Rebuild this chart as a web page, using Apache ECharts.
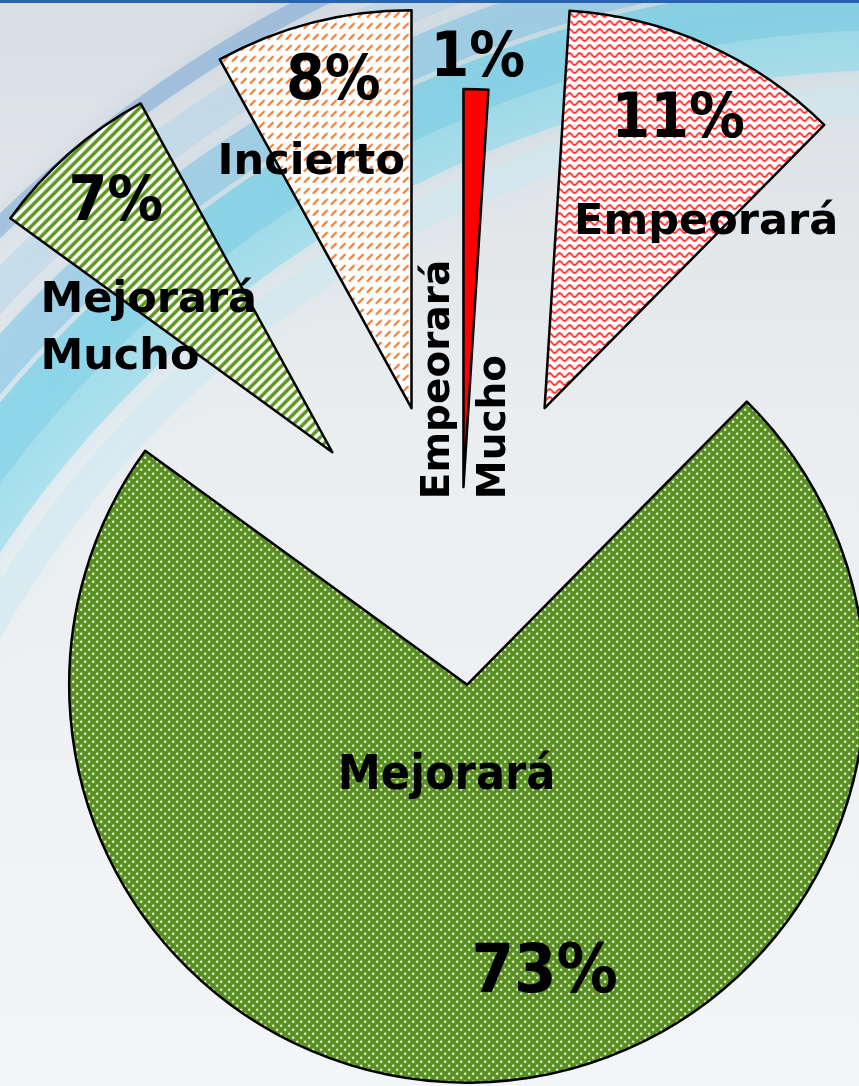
<!DOCTYPE html>
<html>
<head>
<meta charset="utf-8">
<script src="https://cdn.jsdelivr.net/npm/echarts/dist/echarts.min.js"></script>
<style>
  html, body { margin: 0; padding: 0; }
  #chart { width: 859px; height: 1086px; }
</style>
</head>
<body>
<div id="chart"></div>
<script>
// datos (orden horario desde las 12)
var categories = ['Empeorará Mucho', 'Empeorará', 'Mejorará', 'Mejorará Mucho', 'Incierto'];
var values = [1, 11.4, 72.6, 7, 8];
var explode = [110, 207, 88, 193, 195];

var chart = echarts.init(document.getElementById('chart'));

function tile(w, h, bg, draw) {
    var c = document.createElement('canvas');
    c.width = w; c.height = h;
    var g = c.getContext('2d');
    if (bg) { g.fillStyle = bg; g.fillRect(0, 0, w, h); }
    draw(g);
    return { image: c, repeat: 'repeat' };
}

var fills = [
    '#ff0000',
    tile(10, 8, '#ffffff', function (g) {   // ondas rojas
        g.strokeStyle = '#ff2a2a'; g.lineWidth = 1.8;
        g.beginPath();
        for (var x = -1; x <= 11; x += 0.5) {
            var y = 4 + 2 * Math.cos(x / 10 * Math.PI * 2);
            x === -1 ? g.moveTo(x, y) : g.lineTo(x, y);
        }
        g.stroke();
    }),
    tile(8, 8, '#568d1c', function (g) {    // puntos blancos
        g.fillStyle = 'rgba(255,255,255,0.9)';
        [[2, 2], [6, 6]].forEach(function (p) {
            g.beginPath(); g.arc(p[0], p[1], 1.3, 0, Math.PI * 2); g.fill();
        });
    }),
    tile(10, 10, '#ffffff', function (g) {  // rayas diagonales
        g.strokeStyle = '#5b961c'; g.lineWidth = 3.6;
        g.beginPath();
        g.moveTo(-1, 11); g.lineTo(11, -1);
        g.moveTo(-1, 1); g.lineTo(1, -1);
        g.moveTo(9, 11); g.lineTo(11, 9);
        g.stroke();
    }),
    tile(9, 11, '#ffffff', function (g) {   // guiones naranjas
        g.strokeStyle = '#ee6f1e'; g.lineWidth = 1.8; g.lineCap = 'round';
        g.beginPath(); g.moveTo(2, 8); g.lineTo(6.5, 3.5); g.stroke();
    })
];

var pctFont = "'Liberation Sans Narrow', 'DejaVu Sans Condensed', 'Roboto', sans-serif";
var nameFont = "'DejaVu Sans', sans-serif";

// etiqueta de cada sector (desplazada desde la posición 'inside')
var labelCfg = [
    { name: false, pSize: 62, pLH: 70, pPad: 0, align: 'center', dx: 8, dy: -225 },
    { name: true, pSize: 62, pLH: 90, pPad: [0, 56, 0, 0], nLH: 114, align: 'center', dx: 79, dy: -46 },
    { name: true, first: 'name', pSize: 68, pLH: 246, pPad: [0, 0, 0, 196], nLH: 150, nSize: 48,
      nFont: "'DejaVu Sans Condensed', 'DejaVu Sans', sans-serif", align: 'center', dx: -37, dy: 13 },
    { name: true, pSize: 62, pLH: 137, pPad: [0, 0, 0, 28], nLH: 57, align: 'left', dx: -50, dy: -40 },
    { name: true, pSize: 62, pLH: 84, pPad: [0, 0, 0, 44], nLH: 76, align: 'center', dx: -50, dy: -92 }
];

function sliceLabel(i) {
    var s = labelCfg[i];
    return {
        show: true, position: 'inside', color: '#000',
        formatter: function (p) {
            var pct = '{p|' + Math.round(p.value) + '%}';
            if (!s.name) return pct;
            var name = p.name.split(' ').map(function (w) { return '{n|' + w + '}'; }).join('\n');
            return s.first === 'name' ? name + '\n' + pct : pct + '\n' + name;
        },
        rich: {
            p: { fontFamily: pctFont, fontWeight: 'bold', fontSize: s.pSize, lineHeight: s.pLH,
                 padding: s.pPad, align: s.align, color: '#000' },
            n: { fontFamily: s.nFont || nameFont, fontWeight: 'bold', fontSize: s.nSize || 43,
                 lineHeight: s.nLH, align: s.align, color: '#000' }
        }
    };
}

function layer(i, label, layout, filled) {
    layout.hideOverlap = false;
    layout.moveOverlap = null;
    return {
        type: 'pie',
        center: [460, 597],
        radius: [0, 398],
        startAngle: 90,
        clockwise: true,
        animation: false,
        silent: true,
        avoidLabelOverlap: false,
        selectedMode: 'multiple',
        selectedOffset: explode[i],
        labelLine: { show: false },
        labelLayout: layout,
        z: filled ? 2 : 3,
        data: categories.map(function (name, j) {
            var mine = j === i;
            return {
                name: name,
                value: values[j],
                selected: mine,
                itemStyle: mine && filled
                    ? { color: fills[j], borderColor: '#000', borderWidth: 2.5 }
                    : { color: 'rgba(0,0,0,0)', borderWidth: 0 },
                label: mine ? label : { show: false }
            };
        })
    };
}

var series = categories.map(function (name, i) {
    return layer(i, sliceLabel(i), { dx: labelCfg[i].dx, dy: labelCfg[i].dy }, true);
});
// nombre vertical del sector rojo (dx/dy en el sistema girado)
series.push(layer(0, {
    show: true, position: 'inside', rotate: 90,
    formatter: categories[0].replace(' ', '\n'),
    fontFamily: nameFont, fontWeight: 'bold', color: '#000', fontSize: 39, lineHeight: 56
}, { dx: -214, dy: -3, align: 'left' }, false));

var swooshC = [900, 1150];
var swooshes = [
    [1050, 30, 'rgba(200,232,242,0.45)'],
    [1100, 40, 'rgba(130,215,236,0.5)'],
    [1145, 50, 'rgba(70,196,228,0.45)'],
    [1195, 40, 'rgba(100,186,226,0.42)'],
    [1245, 34, 'rgba(165,208,232,0.38)'],
    [1290, 18, 'rgba(70,140,205,0.35)']
];

var option = {
    graphic: {
        elements: [{
            type: 'rect',
            shape: { x: 0, y: 0, width: 859, height: 1086 },
            style: {
                fill: new echarts.graphic.LinearGradient(0, 0, 0, 1, [
                    { offset: 0, color: '#d9dee2' },
                    { offset: 0.4, color: '#eaeef1' },
                    { offset: 1, color: '#f4f5f7' }
                ])
            }
        }].concat(swooshes.map(function (s) {
            return {
                type: 'arc',
                shape: { cx: swooshC[0], cy: swooshC[1], r: s[0], startAngle: Math.PI, endAngle: Math.PI * 1.5, clockwise: true },
                style: { stroke: s[2], lineWidth: s[1], fill: null, shadowBlur: 20, shadowColor: s[2] }
            };
        })).concat([{
            type: 'rect',
            shape: { x: 0, y: 0, width: 859, height: 3 },
            style: { fill: '#2a62ad' }
        }])
    },
    series: series
};

chart.setOption(option);
</script>
</body>
</html>
